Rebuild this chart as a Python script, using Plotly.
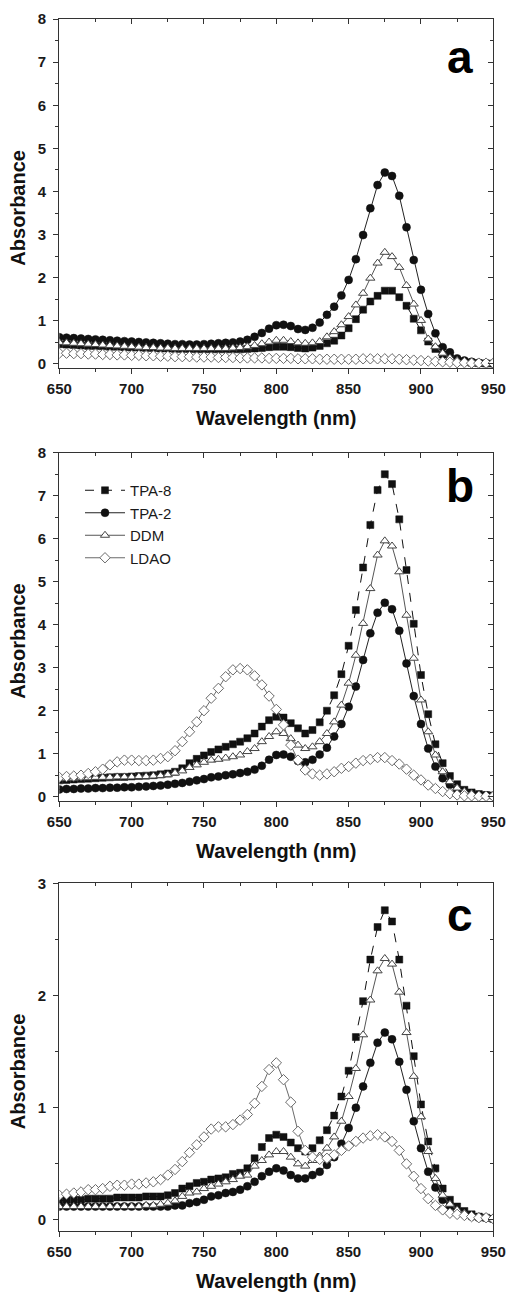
import plotly.graph_objects as go

# ---------------- data ----------------
wavelength = list(range(650, 951, 5))

# panel a
a_tpa8 = [0.46,0.45,0.44,0.43,0.42,0.42,0.41,0.40,0.40,0.39,
          0.38,0.38,0.37,0.37,0.36,0.36,0.35,0.35,0.35,0.34,
          0.34,0.34,0.34,0.34,0.34,0.34,0.35,0.36,0.37,0.39,
          0.40,0.40,0.39,0.37,0.36,0.38,0.42,0.48,0.54,0.66,
          0.83,1.04,1.26,1.45,1.58,1.70,1.70,1.55,1.35,1.05,
          0.78,0.52,0.35,0.22,0.14,0.08,0.05,0.03,0.02,0.01,
          0.01]
a_tpa2 = [0.62,0.61,0.60,0.59,0.58,0.57,0.56,0.55,0.54,0.53,
          0.52,0.51,0.50,0.49,0.48,0.47,0.46,0.46,0.45,0.45,
          0.46,0.47,0.48,0.49,0.50,0.52,0.56,0.63,0.72,0.82,
          0.90,0.91,0.88,0.81,0.79,0.84,0.96,1.14,1.33,1.59,
          1.95,2.43,2.99,3.61,4.15,4.44,4.36,3.90,3.17,2.41,
          1.72,1.16,0.71,0.39,0.27,0.13,0.08,0.05,0.03,0.02,
          0.01]
a_ddm = [0.50,0.49,0.48,0.47,0.46,0.45,0.44,0.43,0.42,0.41,
         0.40,0.39,0.38,0.38,0.37,0.37,0.36,0.36,0.36,0.36,
         0.36,0.36,0.36,0.36,0.37,0.38,0.40,0.43,0.47,0.51,
         0.55,0.55,0.52,0.49,0.48,0.49,0.52,0.63,0.75,0.91,
         1.10,1.37,1.64,1.99,2.34,2.59,2.49,2.24,1.82,1.39,
         1.01,0.58,0.40,0.25,0.14,0.08,0.05,0.03,0.02,0.01,
         0.01]
a_ldao = [0.25,0.25,0.24,0.24,0.23,0.23,0.22,0.22,0.21,0.21,
          0.20,0.20,0.19,0.19,0.18,0.18,0.17,0.17,0.17,0.16,
          0.16,0.16,0.15,0.15,0.15,0.14,0.14,0.14,0.14,0.13,
          0.13,0.13,0.13,0.12,0.12,0.12,0.11,0.11,0.11,0.11,
          0.11,0.11,0.12,0.12,0.12,0.12,0.12,0.11,0.10,0.09,
          0.08,0.07,0.06,0.05,0.04,0.03,0.03,0.02,0.02,0.02,
          0.02]

# panel b
b_tpa8 = [0.38,0.39,0.40,0.41,0.42,0.43,0.44,0.45,0.46,0.46,
          0.47,0.48,0.49,0.50,0.52,0.54,0.58,0.66,0.78,0.88,
          0.96,1.04,1.10,1.16,1.22,1.28,1.36,1.47,1.63,1.78,
          1.86,1.84,1.71,1.59,1.47,1.55,1.73,2.00,2.36,2.85,
          3.51,4.34,5.33,6.32,7.13,7.50,7.27,6.45,5.27,4.02,
          2.83,1.92,1.22,0.78,0.48,0.29,0.16,0.10,0.06,0.04,
          0.03]
b_tpa2 = [0.17,0.18,0.18,0.19,0.19,0.20,0.20,0.21,0.21,0.22,
          0.22,0.23,0.24,0.25,0.26,0.28,0.30,0.32,0.35,0.38,
          0.41,0.45,0.47,0.50,0.52,0.55,0.58,0.63,0.72,0.86,
          0.97,0.98,0.93,0.83,0.80,0.86,0.98,1.14,1.40,1.69,
          2.09,2.56,3.18,3.80,4.28,4.51,4.36,3.86,3.10,2.34,
          1.69,1.12,0.70,0.43,0.28,0.15,0.09,0.06,0.04,0.03,
          0.02]
b_ddm = [0.42,0.43,0.43,0.44,0.44,0.45,0.45,0.45,0.46,0.46,
         0.46,0.47,0.47,0.48,0.49,0.51,0.55,0.60,0.68,0.74,
         0.80,0.85,0.87,0.90,0.93,0.97,1.05,1.12,1.28,1.40,
         1.51,1.47,1.35,1.20,1.12,1.16,1.28,1.47,1.74,2.13,
         2.64,3.29,4.03,4.84,5.62,5.95,5.83,5.23,4.22,3.22,
         2.25,1.51,0.97,0.58,0.35,0.20,0.12,0.07,0.04,0.03,
         0.02]
b_ldao = [0.45,0.47,0.48,0.50,0.54,0.58,0.64,0.74,0.81,0.85,
          0.85,0.84,0.84,0.85,0.89,0.93,1.07,1.28,1.51,1.74,
          2.00,2.29,2.52,2.79,2.95,2.98,2.95,2.81,2.60,2.34,
          2.03,1.67,1.20,0.85,0.62,0.53,0.50,0.53,0.58,0.66,
          0.70,0.78,0.84,0.87,0.91,0.91,0.84,0.76,0.64,0.50,
          0.39,0.27,0.19,0.12,0.07,0.04,0.02,0.02,0.01,0.01,
          0.01]

# panel c
c_tpa8 = [0.17,0.18,0.18,0.18,0.19,0.19,0.19,0.19,0.20,0.20,
          0.20,0.20,0.21,0.21,0.21,0.22,0.24,0.28,0.30,0.33,
          0.34,0.36,0.37,0.38,0.41,0.42,0.46,0.55,0.65,0.73,
          0.76,0.74,0.69,0.64,0.61,0.64,0.71,0.80,0.93,1.10,
          1.33,1.63,1.95,2.32,2.61,2.76,2.66,2.32,1.91,1.46,
          1.03,0.70,0.46,0.28,0.18,0.12,0.08,0.05,0.03,0.02,
          0.01]
c_tpa2 = [0.12,0.12,0.12,0.12,0.12,0.12,0.12,0.12,0.12,0.12,
          0.12,0.12,0.12,0.12,0.12,0.12,0.13,0.13,0.15,0.16,
          0.18,0.21,0.22,0.24,0.25,0.27,0.30,0.34,0.39,0.43,
          0.46,0.44,0.40,0.37,0.37,0.40,0.43,0.49,0.56,0.68,
          0.82,1.00,1.19,1.40,1.58,1.67,1.61,1.41,1.16,0.88,
          0.64,0.43,0.29,0.18,0.12,0.08,0.05,0.03,0.02,0.02,
          0.01]
c_ddm = [0.12,0.12,0.12,0.12,0.12,0.12,0.12,0.12,0.12,0.12,
         0.12,0.12,0.13,0.13,0.14,0.15,0.17,0.21,0.24,0.25,
         0.28,0.30,0.32,0.34,0.36,0.39,0.40,0.48,0.53,0.58,
         0.61,0.61,0.56,0.50,0.48,0.53,0.57,0.64,0.74,0.88,
         1.10,1.35,1.65,1.96,2.22,2.33,2.28,2.03,1.67,1.28,
         0.92,0.61,0.37,0.22,0.14,0.09,0.06,0.04,0.03,0.02,
         0.01]
c_ldao = [0.22,0.23,0.24,0.25,0.27,0.27,0.28,0.30,0.31,0.31,
          0.32,0.32,0.33,0.34,0.36,0.40,0.45,0.52,0.60,0.67,
          0.74,0.81,0.83,0.83,0.85,0.89,0.94,1.04,1.19,1.34,
          1.40,1.25,1.05,0.79,0.62,0.56,0.54,0.55,0.58,0.62,
          0.66,0.70,0.73,0.75,0.76,0.74,0.70,0.62,0.50,0.39,
          0.28,0.19,0.13,0.09,0.06,0.05,0.04,0.03,0.02,0.02,
          0.01]

series_names = ["TPA-8", "TPA-2", "DDM", "LDAO"]
panels = [
    ("a", [a_tpa8, a_tpa2, a_ddm, a_ldao], [-0.1, 8], [0, 1, 2, 3, 4, 5, 6, 7, 8]),
    ("b", [b_tpa8, b_tpa2, b_ddm, b_ldao], [-0.1, 8], [0, 1, 2, 3, 4, 5, 6, 7, 8]),
    ("c", [c_tpa8, c_tpa2, c_ddm, c_ldao], [-0.1, 3], [0, 1, 2, 3]),
]
x_ticks = [650, 700, 750, 800, 850, 900, 950]

# ---------------- styles ----------------
FONT = "Arial, Liberation Sans, Helvetica, sans-serif"
styles = {
    "TPA-8": dict(line=dict(color="#111111", width=1, dash="dash"),
                  marker=dict(symbol="square", size=7, color="#111111",
                              line=dict(color="#111111", width=0.5))),
    "TPA-2": dict(line=dict(color="#222222", width=1),
                  marker=dict(symbol="circle", size=8, color="#111111",
                              line=dict(color="#111111", width=0.5))),
    "DDM": dict(line=dict(color="#555555", width=1),
                marker=dict(symbol="triangle-up", size=8, color="white",
                            line=dict(color="#444444", width=1))),
    "LDAO": dict(line=dict(color="#6a6a6a", width=1),
                 marker=dict(symbol="diamond", size=8, color="white",
                             line=dict(color="#6a6a6a", width=1))),
}

H = 1292.0
W = 508.0
x_dom = [59.3 / W, 493.3 / W]
panel_px = [(19.0, 368.3), (452.7, 801.0), (883.3, 1231.2)]  # top, bottom in px
letter_bottom_px = [85.0, 514.3, 942.7]

fig = go.Figure()
layout = {}
annotations = []

AX_COLOR = "#333333"
for i, (letter, data, yr, yt) in enumerate(panels):
    n = i + 1
    xa = "x" if n == 1 else f"x{n}"
    ya = "y" if n == 1 else f"y{n}"
    for name, vals in zip(series_names, data):
        st = styles[name]
        fig.add_trace(go.Scatter(
            x=wavelength, y=vals, mode="lines+markers", name=name,
            line=st["line"], marker=st["marker"],
            xaxis=xa, yaxis=ya, legendgroup=name, showlegend=(n == 2),
        ))
    top, bot = panel_px[i]
    ydom = [1 - bot / H, 1 - top / H]
    xkey = "xaxis" if n == 1 else f"xaxis{n}"
    ykey = "yaxis" if n == 1 else f"yaxis{n}"
    layout[xkey] = dict(
        domain=x_dom, anchor=ya, range=[650, 950], tickvals=x_ticks,
        ticks="outside", ticklen=5, tickwidth=1.2, tickcolor=AX_COLOR,
        minor=dict(dtick=25, tick0=650, ticks="outside", ticklen=3, tickcolor=AX_COLOR, tickwidth=1),
        showline=True, linecolor=AX_COLOR, linewidth=1.3, mirror=True,
        showgrid=False, zeroline=False, automargin=False,
        tickfont=dict(family=FONT, size=15, color="#1a1a1a", weight="bold"),
        ticklabelstandoff=2,
    )
    layout[ykey] = dict(
        domain=ydom, anchor=xa, range=yr, tickvals=yt,
        ticks="outside", ticklen=5, tickwidth=1.2, tickcolor=AX_COLOR,
        minor=dict(dtick=0.5, tick0=0, ticks="outside", ticklen=3, tickcolor=AX_COLOR, tickwidth=1),
        showline=True, linecolor=AX_COLOR, linewidth=1.3, mirror=True,
        showgrid=False, zeroline=False, automargin=False,
        tickfont=dict(family=FONT, size=15, color="#1a1a1a", weight="bold"),
        ticklabelstandoff=4,
    )
    # overlay axes for inward ticks on top and right
    m = n + 3
    oxa, oya = f"x{m}", f"y{m}"
    layout[f"xaxis{m}"] = dict(
        overlaying=xa, anchor=oya, side="top", range=[650, 950], tickvals=x_ticks,
        ticks="inside", ticklen=5, tickwidth=1.2, tickcolor=AX_COLOR,
        minor=dict(dtick=25, tick0=650, ticks="inside", ticklen=3, tickcolor=AX_COLOR, tickwidth=1),
        showticklabels=False, showline=False, showgrid=False, zeroline=False, automargin=False,
    )
    layout[f"yaxis{m}"] = dict(
        overlaying=ya, anchor=oxa, side="right", range=yr, tickvals=yt,
        ticks="inside", ticklen=5, tickwidth=1.2, tickcolor=AX_COLOR,
        minor=dict(dtick=0.5, tick0=0, ticks="inside", ticklen=3, tickcolor=AX_COLOR, tickwidth=1),
        showticklabels=False, showline=False, showgrid=False, zeroline=False, automargin=False,
    )
    fig.add_trace(go.Scatter(x=[None], y=[None], xaxis=oxa, yaxis=oya,
                             showlegend=False, hoverinfo="skip"))

    # axis titles
    annotations.append(dict(
        text="Absorbance", xref="paper", yref="paper",
        x=18 / W, y=1 - ((top + bot) / 2 + 14) / H, textangle=-90,
        showarrow=False, xanchor="center", yanchor="middle",
        font=dict(family=FONT, size=20, color="#111111", weight="bold"),
    ))
    annotations.append(dict(
        text="Wavelength (nm)", xref="paper", yref="paper",
        x=(x_dom[0] + x_dom[1]) / 2, y=1 - (bot + 50) / H,
        showarrow=False, xanchor="center", yanchor="middle",
        font=dict(family=FONT, size=20, color="#111111", weight="bold"),
    ))
    annotations.append(dict(
        text=letter, xref="paper", yref="paper",
        x=460 / W, y=1 - letter_bottom_px[i] / H,
        showarrow=False, xanchor="center", yanchor="bottom",
        font=dict(family=FONT, size=46, color="#000000", weight="bold"),
    ))

fig.update_layout(
    width=508, height=1292,
    margin=dict(l=0, r=0, t=0, b=0, pad=0, autoexpand=False),
    paper_bgcolor="white", plot_bgcolor="white",
    showlegend=True,
    legend=dict(
        x=80 / W, y=1 - 474 / H, xanchor="left", yanchor="top",
        bgcolor="rgba(0,0,0,0)", borderwidth=0,
        font=dict(family=FONT, size=15, color="#1a1a1a"),
        itemwidth=40, tracegroupgap=0,
    ),
    annotations=annotations,
    **layout,
)

fig.write_html(
    "out.html",
    config={"displayModeBar": False},
    post_script="document.body.style.margin='0';document.body.style.padding='0';document.body.style.overflow='hidden';",
)
